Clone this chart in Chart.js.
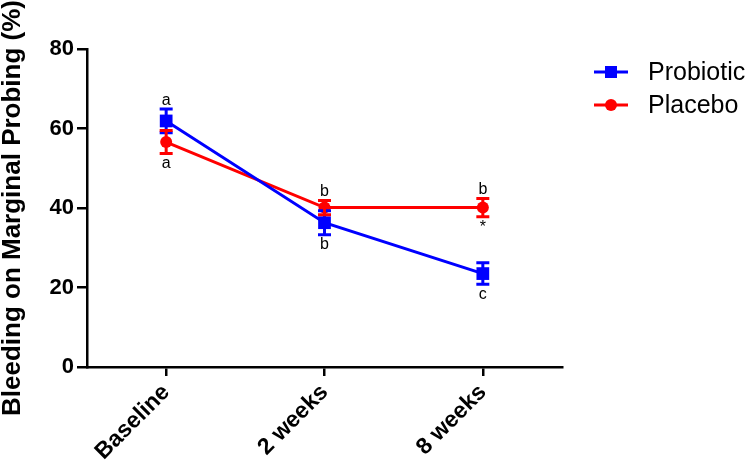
<!DOCTYPE html>
<html><head><meta charset="utf-8">
<script src="https://cdn.jsdelivr.net/npm/chart.js@4/dist/chart.umd.min.js"></script>
<style>html,body{margin:0;padding:0;background:#fff}</style>
</head><body>
<canvas id="c" width="750" height="463"></canvas>
<script>
const categories = ['Baseline', '2 weeks', '8 weeks'];
const seriesNames = ['Probiotic', 'Placebo'];
const probioticMean = [61.9, 36.3, 23.5];
const probioticErr = [3.0, 3.0, 2.7];
const placeboMean = [56.6, 40.1, 40.1];
const placeboErr = [2.9, 1.8, 2.3];
const probioticMarks = ['a', 'b', 'c'];
const probioticMarkSide = ['above', 'below', 'below'];
const placeboMarks = ['a', 'b', 'b'];
const placeboMarkSide = ['below', 'above', 'above'];
const placeboStarMarks = ['', '', '*'];
const yTicks = [0, 20, 40, 60, 80];
const yTitle = 'Bleeding on Marginal Probing (%)';

const FONT = "'Liberation Sans', Arial, Helvetica, sans-serif";
const BLUE = '#0000ff', RED = '#ff0000';

const extras = {
  id: 'extras',
  afterDatasetsDraw(chart) {
    const ctx = chart.ctx, y = chart.scales.y;
    const capHalf = 6.5;
    chart.data.datasets.forEach((ds, di) => {
      const meta = chart.getDatasetMeta(di);
      ctx.save();
      ctx.strokeStyle = ds.borderColor;
      ctx.fillStyle = '#000';
      ctx.lineWidth = 3;
      meta.data.forEach((pt, i) => {
        const x = pt.x;
        const top = y.getPixelForValue(ds.data[i] + ds.errors[i]);
        const bot = y.getPixelForValue(ds.data[i] - ds.errors[i]);
        ctx.beginPath();
        ctx.moveTo(x, top); ctx.lineTo(x, bot);
        ctx.moveTo(x - capHalf, top); ctx.lineTo(x + capHalf, top);
        ctx.moveTo(x - capHalf, bot); ctx.lineTo(x + capHalf, bot);
        ctx.stroke();
        ctx.font = '16px ' + FONT;
        ctx.textAlign = 'center';
        const m = ds.marks[i];
        if (m) {
          if (ds.markSide[i] === 'above') {
            ctx.textBaseline = 'alphabetic';
            ctx.fillText(m, x, top - 4);
          } else {
            ctx.textBaseline = 'top';
            ctx.fillText(m, x, bot + 2);
          }
        }
        if (ds.starMarks && ds.starMarks[i]) {
          ctx.textBaseline = 'top';
          ctx.fillText(ds.starMarks[i], x, bot + 3);
        }
      });
      ctx.restore();
    });
  },
  afterDraw(chart) {
    const ctx = chart.ctx;
    const rows = [72, 105];
    chart.data.datasets.forEach((ds, di) => {
      const yy = rows[di];
      ctx.save();
      ctx.strokeStyle = ds.borderColor;
      ctx.fillStyle = ds.borderColor;
      ctx.lineWidth = 3;
      ctx.beginPath(); ctx.moveTo(594, yy); ctx.lineTo(628, yy); ctx.stroke();
      if (ds.pointStyle === 'rect') {
        ctx.fillRect(611 - 6, yy - 6, 12, 12);
      } else {
        ctx.beginPath(); ctx.arc(611, yy, 6, 0, Math.PI * 2); ctx.fill();
      }
      ctx.fillStyle = '#000';
      ctx.font = '25px ' + FONT;
      ctx.textAlign = 'left';
      ctx.textBaseline = 'middle';
      ctx.fillText(ds.label, 648, yy + 1);
      ctx.restore();
    });
  }
};

new Chart(document.getElementById('c'), {
  type: 'line',
  data: {
    labels: categories,
    datasets: [
      { label: seriesNames[0], data: probioticMean, errors: probioticErr, marks: probioticMarks, markSide: probioticMarkSide,
        borderColor: BLUE, backgroundColor: BLUE, borderWidth: 3, pointStyle: 'rect', pointRadius: 9,
        pointBorderWidth: 0, pointBackgroundColor: BLUE, tension: 0 },
      { label: seriesNames[1], data: placeboMean, errors: placeboErr, marks: placeboMarks, markSide: placeboMarkSide, starMarks: placeboStarMarks,
        borderColor: RED, backgroundColor: RED, borderWidth: 3, pointStyle: 'circle', pointRadius: 6,
        pointBorderWidth: 0, pointBackgroundColor: RED, tension: 0 }
    ]
  },
  options: {
    responsive: false, animation: false, devicePixelRatio: 1,
    layout: { padding: { top: 49, right: 188, left: 0, bottom: 0 } },
    plugins: { legend: { display: false }, tooltip: { enabled: false } },
    scales: {
      x: {
        type: 'category', offset: true,
        border: { color: '#000', width: 2.5 },
        grid: { display: true, drawOnChartArea: false, drawTicks: true, tickLength: 9, color: '#000', lineWidth: 2.5, offset: false },
        ticks: { color: '#000', font: { family: FONT, size: 23, weight: 'bold' }, minRotation: 45, maxRotation: 45, padding: 3 },
        afterFit(s) { s.height = 96; }
      },
      y: {
        min: 0, max: 80,
        afterBuildTicks(s) { s.ticks = yTicks.map(v => ({ value: v })); },
        border: { color: '#000', width: 2.5 },
        grid: { display: true, drawOnChartArea: false, drawTicks: true, tickLength: 10, color: '#000', lineWidth: 2.5 },
        ticks: { color: '#000', font: { family: FONT, size: 22, weight: 'bold' }, padding: 3 },
        title: { display: true, text: yTitle, color: '#000', font: { family: FONT, size: 26, weight: 'bold', lineHeight: 1 }, padding: 0 },
        afterFit(s) { s.width = 87; }
      }
    }
  },
  plugins: [extras]
});
</script>
</body></html>
